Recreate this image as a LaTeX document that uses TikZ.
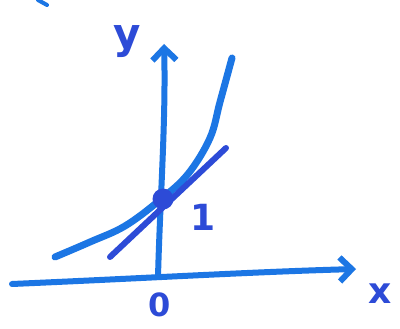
\documentclass[tikz,border=0pt]{standalone}
\usepackage{fontspec}
\setsansfont{DejaVu Sans}
\usetikzlibrary{arrows.meta}
\definecolor{pen}{RGB}{28,118,228}
\definecolor{ink}{RGB}{45,75,215}
\tikzset{
  axis/.style={draw=pen, line width=6pt, line cap=round, -{Straight Barb[length=12pt,width=24pt,line width=6pt]}},
  curve/.style={draw=pen, line width=7pt, line cap=round},
  tang/.style={draw=ink, line width=6pt, line cap=round},
  lbl/.style={text=ink, font=\sffamily\bfseries\fontsize{36}{36}\selectfont, inner sep=0pt}
}
\begin{document}
\begin{tikzpicture}[x=1pt,y=-1pt]
\useasboundingbox (0,0) rectangle (400,329);
\fill[white] (0,0) rectangle (400,329);
% coordinates
\coordinate (xs) at (12,284);
\coordinate (xe) at (356,269);
\coordinate (ys) at (158,277);
\coordinate (ye) at (164,44);
\coordinate (ls) at (110,257);
\coordinate (le) at (226,148);
% axes
\draw[axis] (xs) .. controls (150,278) and (250,272) .. (xe);
\draw[axis] (ys) .. controls (160,200) and (166,120) .. (ye);
% exponential curve
\draw[curve] plot[smooth, tension=0.6] coordinates {(55,257) (90,242) (125,226) (160,200) (188,174) (210,138) (220,102) (232,58)};
% tangent line
\draw[tang] (ls) -- (le);
% point (0,1)
\node[circle, fill=ink, minimum size=21pt, inner sep=0pt] (p) at (163,199) {};
% labels
\node[lbl, font=\sffamily\bfseries\fontsize{42}{42}\selectfont] (ylab) at (127,42) {y};
\node[lbl] (xlab) at (380,294) {x};
\node[lbl, font=\sffamily\bfseries\fontsize{32}{32}\selectfont] (olab) at (160,305) {0};
\node[lbl] (one) at (203,217) {1};
% stray mark
\draw[pen, line width=4pt, line cap=round] (38,0) -- (47,5);
\end{tikzpicture}
\end{document}
